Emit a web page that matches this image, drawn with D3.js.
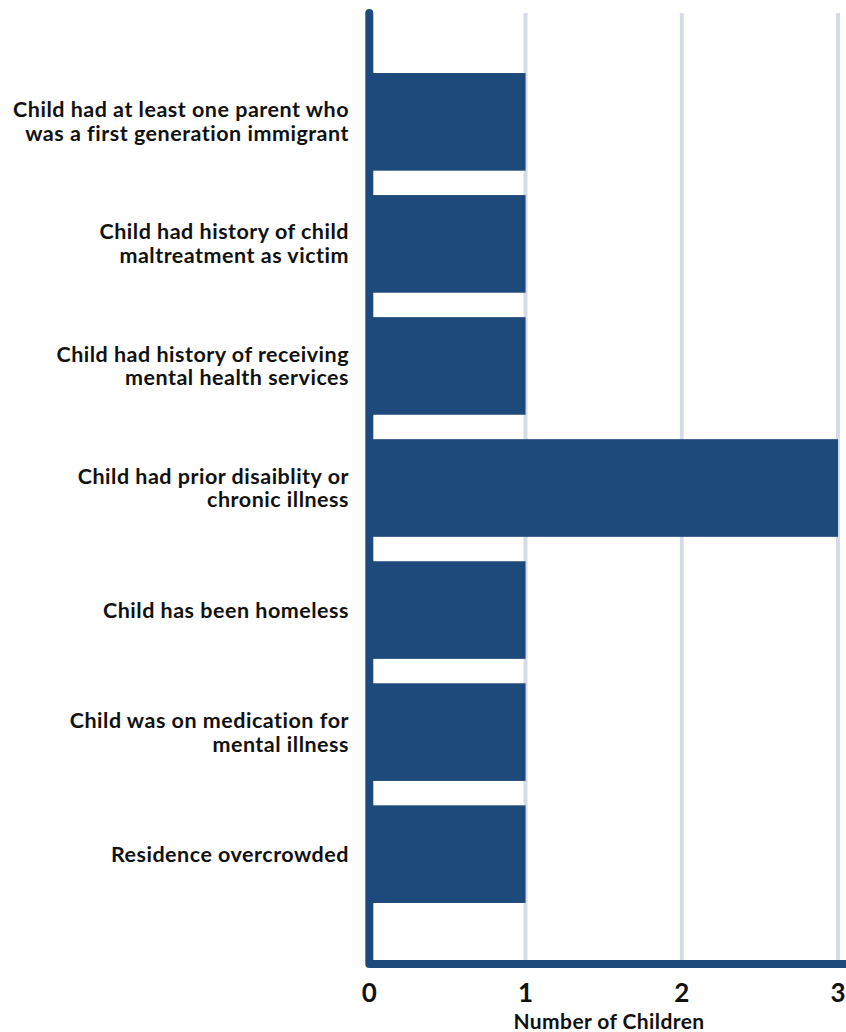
<!DOCTYPE html>
<html>
<head>
<meta charset="utf-8">
<script src="https://cdn.jsdelivr.net/npm/d3@7"></script>
<style>
  html, body { margin: 0; padding: 0; background: #ffffff; }
  svg { display: block; }
  text { font-family: Lato, "Open Sans", sans-serif; font-weight: 700; fill: #111; }
</style>
</head>
<body>
<svg id="chart" width="846" height="1032"></svg>
<script>
// Risk factors among children (one label line per array entry)
const categories = [
  ["Child had at least one parent who", "was a first generation immigrant"],
  ["Child had history of child", "maltreatment as victim"],
  ["Child had history of receiving", "mental health services"],
  ["Child had prior disaiblity or", "chronic illness"],
  ["Child has been homeless"],
  ["Child was on medication for", "mental illness"],
  ["Residence overcrowded"]
];
const values = [1, 1, 1, 3, 1, 1, 1];
const xTicks = [0, 1, 2, 3];
const xTitle = "Number of Children";

const W = 846, H = 1032;
const plotLeft = 369.3, plotRight = 838, plotTop = 12, plotBottom = 964;
const barColor = "#1e4a7b";
const gridColor = "#d5dce8";

const svg = d3.select("#chart");

const x = d3.scaleLinear().domain([0, 3]).range([plotLeft, plotRight]);
const y = d3.scaleBand()
  .domain(d3.range(categories.length))
  .range([plotTop, plotBottom])
  .paddingInner(0.2)
  .paddingOuter(0.5);

// vertical gridlines
svg.append("g")
  .selectAll("line")
  .data(xTicks.filter(d => d > 0))
  .join("line")
  .attr("x1", d => x(d)).attr("x2", d => x(d))
  .attr("y1", plotTop + 1).attr("y2", plotBottom)
  .attr("stroke", gridColor)
  .attr("stroke-width", 4);

// bars
svg.append("g")
  .selectAll("rect")
  .data(values)
  .join("rect")
  .attr("x", x(0))
  .attr("y", (d, i) => y(i))
  .attr("width", d => x(d) - x(0))
  .attr("height", y.bandwidth())
  .attr("fill", barColor);

// axis frame: left and bottom lines
svg.append("path")
  .attr("d", `M${x(0)},${plotTop + 1}L${x(0)},${plotBottom}L${W + 10},${plotBottom}`)
  .attr("fill", "none")
  .attr("stroke", barColor)
  .attr("stroke-width", 8)
  .attr("stroke-linecap", "round")
  .attr("stroke-linejoin", "round");

// category labels
const labels = svg.append("g")
  .selectAll("text")
  .data(categories)
  .join("text")
  .attr("text-anchor", "end")
  .attr("font-size", 21.5)
  .attr("letter-spacing", 0.5);
labels.each(function(lines, i) {
  const cy = y(i) + y.bandwidth() / 2;
  const n = lines.length;
  d3.select(this).selectAll("tspan")
    .data(lines)
    .join("tspan")
    .attr("x", 349)
    .attr("y", (d, k) => cy + 7.5 + (k - (n - 1) / 2) * 23.8)
    .text(d => d);
});

// x tick labels
svg.append("g")
  .selectAll("text")
  .data(xTicks)
  .join("text")
  .attr("x", d => x(d))
  .attr("y", 1002)
  .attr("text-anchor", "middle")
  .attr("font-size", 26)
  .text(d => d);

// x axis title
svg.append("text")
  .attr("x", 609)
  .attr("y", 1029)
  .attr("text-anchor", "middle")
  .attr("font-size", 21)
  .attr("letter-spacing", 0.4)
  .attr("fill", "#222")
  .text(xTitle);
</script>
</body>
</html>
